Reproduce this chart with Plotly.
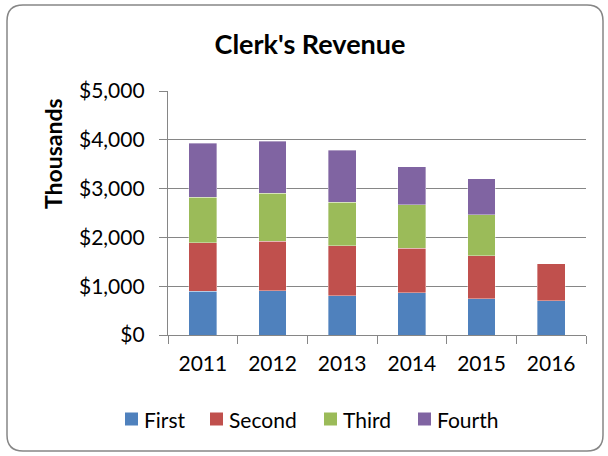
import plotly.graph_objects as go

years = ["2011", "2012", "2013", "2014", "2015", "2016"]
first = [900, 910, 800, 870, 745, 705]
second = [990, 1010, 1025, 910, 875, 760]
third = [930, 980, 900, 885, 840, None]
fourth = [1110, 1075, 1060, 785, 740, None]

series = [
    ("First", first, "#4F81BD"),
    ("Second", second, "#C0504D"),
    ("Third", third, "#9BBB59"),
    ("Fourth", fourth, "#8064A2"),
]

W, H = 608, 456
ML, MR, MT, MB = 168, 22, 91, 121
PW, PH = W - ML - MR, H - MT - MB

FONT = "Lato, Carlito, Calibri, sans-serif"

fig = go.Figure()
for name, vals, color in series:
    fig.add_trace(go.Bar(
        x=years, y=vals, name=name, showlegend=False,
        marker=dict(color=color, line=dict(color="rgba(255,255,255,0.6)", width=0.6)),
    ))


def px_x(p):
    return (p - ML) / PW


def px_y(p):
    return (H - MB - p) / PH


# rounded chart frame drawn in paper coordinates
x0, x1, y0, y1, r = 7, 603, 5, 451, 16
pts = [
    f"M {px_x(x0 + r)},{px_y(y0)}",
    f"L {px_x(x1 - r)},{px_y(y0)}",
    f"Q {px_x(x1)},{px_y(y0)} {px_x(x1)},{px_y(y0 + r)}",
    f"L {px_x(x1)},{px_y(y1 - r)}",
    f"Q {px_x(x1)},{px_y(y1)} {px_x(x1 - r)},{px_y(y1)}",
    f"L {px_x(x0 + r)},{px_y(y1)}",
    f"Q {px_x(x0)},{px_y(y1)} {px_x(x0)},{px_y(y1 - r)}",
    f"L {px_x(x0)},{px_y(y0 + r)}",
    f"Q {px_x(x0)},{px_y(y0)} {px_x(x0 + r)},{px_y(y0)} Z",
]
fig.add_shape(type="path", path=" ".join(pts), xref="paper", yref="paper",
              line=dict(color="#868686", width=1.5), fillcolor="rgba(0,0,0,0)", layer="below")

# legend: coloured square followed by the series name
legend_x = [125, 210, 324, 418]
legend_y = 419
sq = 13
for (name, _, color), lx in zip(series, legend_x):
    fig.add_shape(type="rect", xref="paper", yref="paper",
                  x0=px_x(lx), x1=px_x(lx + sq),
                  y0=px_y(legend_y - sq / 2), y1=px_y(legend_y + sq / 2),
                  fillcolor=color, line=dict(width=0))
    fig.add_annotation(text=name, showarrow=False, xref="paper", yref="paper",
                       x=px_x(lx + sq + 4), y=px_y(legend_y), xanchor="left", yanchor="middle",
                       font=dict(family=FONT, size=21, color="black"))

fig.add_annotation(
    text="<b>Thousands</b>", textangle=-90, showarrow=False,
    xref="paper", yref="paper", x=px_x(53), y=px_y(154),
    xanchor="center", yanchor="middle",
    font=dict(family=FONT, size=23, color="black"),
)

fig.update_layout(
    width=W, height=H,
    margin=dict(l=ML, r=MR, t=MT, b=MB),
    paper_bgcolor="white", plot_bgcolor="white",
    barmode="stack", bargap=0.6,
    font=dict(family=FONT, color="black"),
    title=dict(text="<b>Clerk's Revenue</b>", x=310 / W, xanchor="center",
               y=1 - 45 / H, yanchor="middle",
               font=dict(family=FONT, size=27, color="black")),
    showlegend=False,
    xaxis=dict(
        showline=True, linecolor="#868686", linewidth=1.3,
        ticks="outside", ticklen=8, tickcolor="#868686", tickwidth=1.3,
        tickson="boundaries", showgrid=False,
        tickfont=dict(family=FONT, size=21, color="black"),
        ticklabelstandoff=10,
    ),
    yaxis=dict(
        range=[0, 5000], dtick=1000, tickformat="$,.0f",
        showline=True, linecolor="#868686", linewidth=1.3,
        ticks="outside", ticklen=8, tickcolor="#868686", tickwidth=1.3,
        showgrid=True, gridcolor="#868686", gridwidth=1.3,
        tickfont=dict(family=FONT, size=21, color="black"),
        ticklabelstandoff=10,
    ),
)

fig.write_html("out.html")
